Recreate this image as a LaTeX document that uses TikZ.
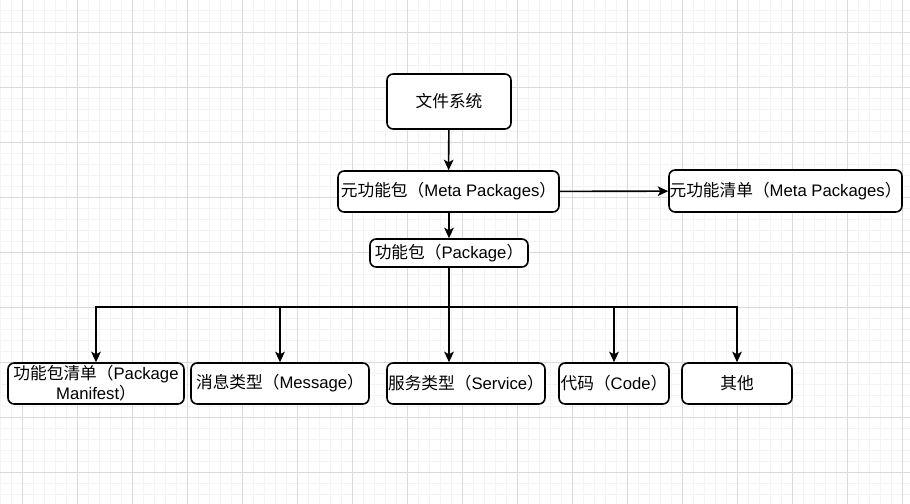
\documentclass[tikz,border=0pt]{standalone}
\usepackage{fontspec}
\setmainfont{Liberation Sans}
\newfontfamily\cjk{Noto Sans CJK SC}
\usetikzlibrary{arrows.meta, positioning}
\definecolor{grid-minor}{RGB}{243,243,243}
\definecolor{grid-major}{RGB}{218,218,218}

\tikzset{
  box/.style={draw=black, line width=0.9pt, rounded corners=3.5pt, fill=white,
    inner sep=0pt, align=center, font=\fontsize{9.5}{11.5}\selectfont},
  link/.style={draw=black, line width=0.9pt, -{Stealth[length=6pt,width=5.5pt,inset=1.5pt]}},
  bar/.style={draw=black, line width=0.9pt},
}

\begin{document}
\begin{tikzpicture}[x=0.02cm, y=-0.02cm]
  \useasboundingbox (0,0) rectangle (910,504);
  % Grid background
  \foreach \x in {0,11,...,909} \draw[grid-minor, line width=0.4pt] (\x,0) -- (\x,504);
  \foreach \y in {10,21,...,503} \draw[grid-minor, line width=0.4pt] (0,\y) -- (910,\y);
  \foreach \x in {22,77,...,909} \draw[grid-major, line width=0.5pt] (\x,0) -- (\x,504);
  \foreach \y in {32,87,...,503} \draw[grid-major, line width=0.5pt] (0,\y) -- (910,\y);

  % Top levels
  \node[box, minimum width=2.48cm, minimum height=1.1cm] (fs) at (449,101.5) {\cjk 文件系统};
  \node[box, minimum width=4.42cm, minimum height=0.82cm] (meta) at (448.5,191.5) {{\cjk 元功能包（}Meta Packages{\cjk ）}};
  \node[box, minimum width=4.66cm, minimum height=0.84cm] (metalist) at (785.5,191) {{\cjk 元功能清单（}Meta Packages{\cjk ）}};
  \node[box, minimum width=3.16cm, minimum height=0.56cm] (pkg) at (449,253) {{\cjk 功能包（}Package{\cjk ）}};

  % Package contents
  \node[box, minimum width=3.52cm, minimum height=0.82cm] (manifest) at (96,383.5) {{\cjk 功能包清单（}Package\\Manifest{\cjk ）}};
  \node[box, minimum width=3.56cm, minimum height=0.82cm] (msg) at (280,383.5) {{\cjk 消息类型（}Message{\cjk ）}};
  \node[box, minimum width=3.16cm, minimum height=0.82cm] (srv) at (466,383.5) {{\cjk 服务类型（}Service{\cjk ）}};
  \node[box, minimum width=2.2cm, minimum height=0.82cm] (code) at (614,383.5) {{\cjk 代码（}Code{\cjk ）}};
  \node[box, minimum width=2.2cm, minimum height=0.82cm] (other) at (737,383.5) {\cjk 其他};

  % Connectors
  \draw[link] (fs) -- (meta);
  \draw[link] (meta) -- (metalist);
  \draw[link] (meta.south -| pkg.north) -- (pkg.north);
  \coordinate (bus) at (449,307);
  \draw[bar] (pkg.south) -- (bus);
  \draw[link] (bus) -| (manifest.north);
  \draw[link] (bus) -| (msg.north);
  \draw[link] (bus) -- (bus |- srv.north);
  \draw[link] (bus) -| (code.north);
  \draw[link] (bus) -| (other.north);
\end{tikzpicture}
\end{document}
